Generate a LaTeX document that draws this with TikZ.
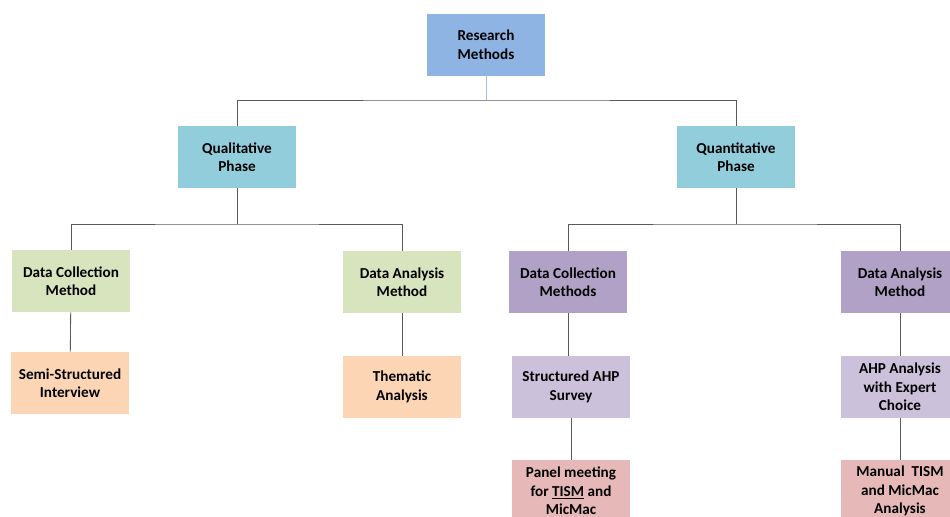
\documentclass[tikz,border=0pt]{standalone}
\usepackage{fontspec}
\setmainfont{Carlito}
\usepackage{tikz}
\usetikzlibrary{calc}

\definecolor{rmblue}{HTML}{8DB4E2}
\definecolor{phase}{HTML}{92CDDC}
\definecolor{green}{HTML}{D7E4BD}
\definecolor{orange}{HTML}{FCD5B5}
\definecolor{purple}{HTML}{B2A1C7}
\definecolor{lilac}{HTML}{CCC1DA}
\definecolor{pink}{HTML}{E6B9B8}
\definecolor{wire}{HTML}{595959}

\begin{document}
\begin{tikzpicture}[x=0.025cm,y=-0.025cm,
    box/.style={minimum width=2.95cm,minimum height=1.56cm,inner sep=1pt,
      align=center,font=\fontsize{10.8}{13.2}\selectfont\bfseries},
    wire/.style={draw=wire,line width=0.6pt}]
  \useasboundingbox (0,0) rectangle (950,516);
  % top
  \node[box,fill=rmblue] (rm) at (486,45) {Research\\Methods};
  \node[box,fill=phase] (qual) at (237,157) {Qualitative\\Phase};
  \node[box,fill=phase] (quant) at (736,157) {Quantitative\\Phase};
  % qualitative side
  \node[box,fill=green] (qlcol) at (71,281) {Data Collection\\Method};
  \node[box,fill=green] (qlana) at (402,282) {Data Analysis\\Method};
  \node[box,fill=orange] (semi) at (70,383) {Semi-Structured\\Interview};
  \node[box,fill=orange] (them) at (402,387) {Thematic\\Analysis};
  % quantitative side
  \node[box,fill=purple] (qncol) at (568,282) {Data Collection\\Methods};
  \node[box,fill=purple] (qnana) at (900,282) {Data Analysis\\Method};
  \node[box,fill=lilac] (ahps) at (571,387) {Structured AHP\\Survey};
  \node[box,fill=lilac] (ahpa) at (900,387) {AHP Analysis\\with Expert\\Choice};
  \node[box,fill=pink] (panel) at (571,491) {Panel meeting\\for \underline{TISM} and\\MicMac};
  \node[box,fill=pink] (man) at (900,491) {Manual\ \ TISM\\and MicMac\\Analysis};
  % joints
  \coordinate (j0) at (486,100);
  \coordinate (j1) at (237,224);
  \coordinate (j2) at (736,224);
  \draw[draw=rmblue!80,line width=0.6pt] (rm) -- (j0);
  \draw[wire] (qual.north) |- (j0) -| (quant.north);
  \draw[wire] (qual) -- (j1);
  \draw[wire] (qlcol.north) |- (j1) -| (qlana.north);
  \draw[wire] (quant) -- (j2);
  \draw[wire] (qncol.north) |- (j2) -| (qnana.north);
  \draw[wire] (qlcol) -- (semi);
  \draw[wire] (qlana) -- (them);
  \draw[wire] (qncol.south) -- (ahps.north -| qncol.south);
  \draw[wire] (ahps) -- (panel);
  \draw[wire] (qnana) -- (ahpa);
  \draw[wire] (ahpa) -- (man);
\end{tikzpicture}
\end{document}
